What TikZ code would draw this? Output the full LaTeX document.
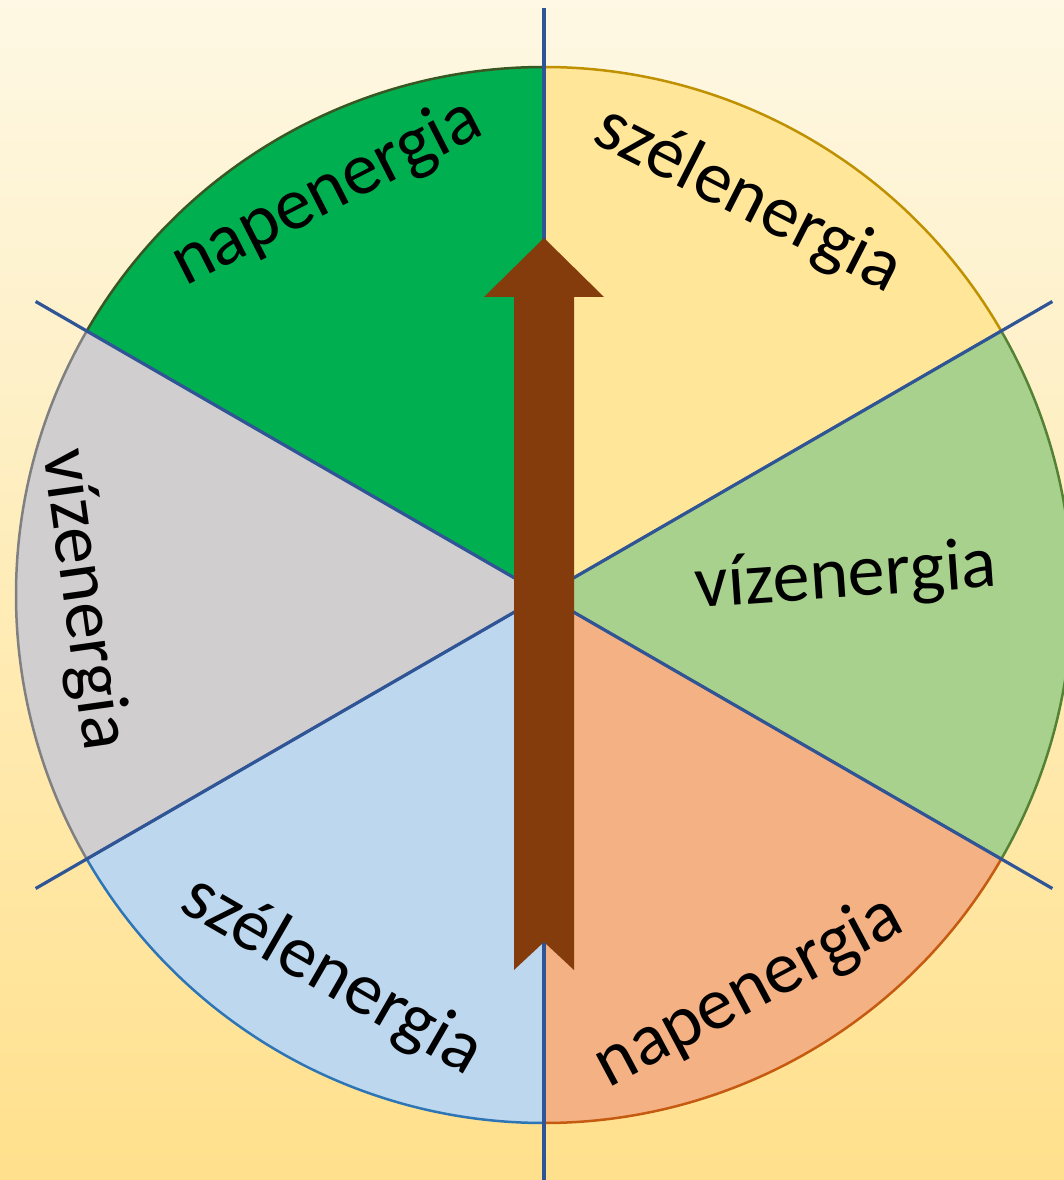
\documentclass[tikz,border=0pt]{standalone}
\usepackage{fontspec}
\setmainfont{Carlito}
\usetikzlibrary{calc}

\definecolor{bgtop}{RGB}{254,248,228}
\definecolor{bgbot}{RGB}{255,224,140}
\definecolor{napgreen}{RGB}{0,176,80}
\definecolor{napgreenline}{RGB}{56,87,35}
\definecolor{szelyellow}{RGB}{255,230,153}
\definecolor{szelyellowline}{RGB}{191,144,0}
\definecolor{vizgreen}{RGB}{169,209,142}
\definecolor{vizgreenline}{RGB}{84,130,53}
\definecolor{naporange}{RGB}{244,177,131}
\definecolor{naporangeline}{RGB}{197,90,17}
\definecolor{szelblue}{RGB}{189,215,238}
\definecolor{szelblueline}{RGB}{46,117,182}
\definecolor{vizgrey}{RGB}{208,206,206}
\definecolor{vizgreyline}{RGB}{128,128,128}
\definecolor{spokeblue}{RGB}{47,85,151}
\definecolor{arrowbrown}{RGB}{132,60,12}

\tikzset{
  sector/.style={line width=2.5pt},
  spoke/.style={draw=spokeblue,line width=3.2pt},
  lbl/.style={font=\fontsize{74}{88}\selectfont,inner sep=0pt,text=black}
}

\begin{document}
\begin{tikzpicture}[x=1pt,y=1pt]
\useasboundingbox (-544,-585) rectangle (520,595);

%background
\shade[top color=bgtop,bottom color=bgbot] (-544,-585) rectangle (520,595);

\coordinate (c) at (0,0);

%sectors
\filldraw[sector,fill=napgreen,draw=napgreenline] (c)--(90:528) arc[start angle=90,end angle=150,radius=528]--cycle;
\filldraw[sector,fill=szelyellow,draw=szelyellowline] (c)--(30:528) arc[start angle=30,end angle=90,radius=528]--cycle;
\filldraw[sector,fill=vizgreen,draw=vizgreenline] (c)--(-30:528) arc[start angle=-30,end angle=30,radius=528]--cycle;
\filldraw[sector,fill=naporange,draw=naporangeline] (c)--(-90:528) arc[start angle=-90,end angle=-30,radius=528]--cycle;
\filldraw[sector,fill=szelblue,draw=szelblueline] (c)--(210:528) arc[start angle=210,end angle=270,radius=528]--cycle;
\filldraw[sector,fill=vizgrey,draw=vizgreyline] (c)--(150:528) arc[start angle=150,end angle=210,radius=528]--cycle;

%spokes
\coordinate (s90) at (90:587);
\coordinate (s270) at (270:587);
\coordinate (s150) at (150:587);
\coordinate (s330) at (330:587);
\coordinate (s30) at (30:587);
\coordinate (s210) at (210:587);
\draw[spoke] (s90)--(s270);
\draw[spoke] (s150)--(s330);
\draw[spoke] (s30)--(s210);

%arrow
\fill[arrowbrown] (0,357)--(60,298)--(30,298)--(30,-375)--(0,-347)--(-30,-375)--(-30,298)--(-60,298)--cycle;

%labels
\node[lbl,rotate=27] (nap1) at (-217,402) {napenergia};
\node[lbl,rotate=-27] (szel1) at (204,395) {szélenergia};
\node[lbl,rotate=4] (viz1) at (302,17) {vízenergia};
\node[lbl,rotate=28] (nap2) at (205,-397) {napenergia};
\node[lbl,rotate=-30] (szel2) at (-212,-381) {szélenergia};
\node[lbl,rotate=-82] (viz2) at (-461,-5) {vízenergia};
\end{tikzpicture}
\end{document}
